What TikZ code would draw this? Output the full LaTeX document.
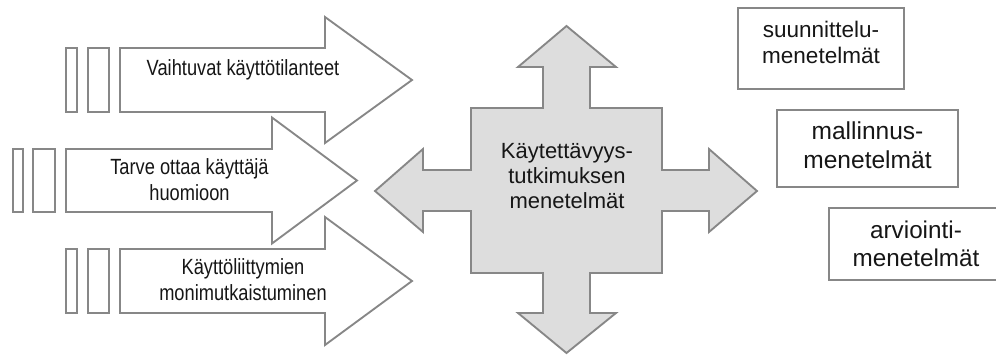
\documentclass[tikz,border=0pt]{standalone}
\usepackage{fontspec}
\setmainfont{Liberation Sans}
\newfontfamily\narrowsans{Liberation Sans}[FakeStretch=0.83]
\definecolor{edgegray}{RGB}{135,135,135}
\definecolor{crossfill}{RGB}{221,221,221}
\definecolor{inkblack}{RGB}{22,22,22}

\begin{document}
\begin{tikzpicture}[x=0.75pt,y=-0.75pt,
    outline/.style={draw=edgegray, line width=1.4pt, line join=miter},
    arrowtext/.style={text=inkblack, align=center, inner sep=0pt,
      font=\narrowsans\fontsize{16.5pt}{19.5pt}\selectfont},
    boxtext/.style={text=inkblack, align=center, inner sep=0pt}]
  \useasboundingbox (0,0) rectangle (996,358);

  % left arrows
  \draw[outline] (66,48) rectangle (77,112);
  \draw[outline] (88,48) rectangle (109,112);
  \draw[outline, fill=white] (120,48) -- (325,48) -- (325,17) -- (412,80)
    -- (325,143) -- (325,112) -- (120,112) -- cycle;

  \draw[outline] (13,149) rectangle (23,212);
  \draw[outline] (33,149) rectangle (55,212);
  \draw[outline, fill=white] (66,149) -- (272,149) -- (272,117.5) -- (357,180.5)
    -- (272,243.5) -- (272,212) -- (66,212) -- cycle;

  \draw[outline] (66,249) rectangle (77,313);
  \draw[outline] (88,249) rectangle (109,313);
  \draw[outline, fill=white] (120,249) -- (325,249) -- (325,217) -- (412,281)
    -- (325,345) -- (325,313) -- (120,313) -- cycle;

  \node[arrowtext, anchor=base] (vaihtuvat) at (243,75) {Vaihtuvat käyttötilanteet};
  \node[arrowtext] (tarve) at (189.5,180) {Tarve ottaa käyttäjä\\huomioon};
  \node[arrowtext] (liittymat) at (243,279.5) {Käyttöliittymien\\monimutkaistuminen};

  % centre cross
  \draw[outline, fill=crossfill] (566.5,26) -- (616,67) -- (590,67) -- (590,108)
    -- (662,108) -- (662,170) -- (709,170) -- (709,149) -- (757,191)
    -- (709,232) -- (709,211) -- (662,211) -- (662,273) -- (590,273)
    -- (590,313) -- (616,313) -- (566.5,353) -- (518,313) -- (543,313)
    -- (543,273) -- (471,273) -- (471,211) -- (423,211) -- (423,232)
    -- (375,191) -- (423,149) -- (423,170) -- (471,170) -- (471,108)
    -- (543,108) -- (543,67) -- (518,67) -- cycle;
  \node[boxtext, font=\fontsize{16.5pt}{18.75pt}\selectfont] (tutkimus) at (567,176)
    {Käytettävyys-\\tutkimuksen\\menetelmät};

  % method boxes
  \draw[outline] (738,8) rectangle (904,89);
  \draw[outline] (777,110) rectangle (958,187);
  \draw[outline] (829,208) rectangle (1010,280);
  \node[boxtext, font=\fontsize{16.9pt}{19.5pt}\selectfont] (suunnittelu) at (821,42)
    {suunnittelu-\\menetelmät};
  \node[boxtext, font=\fontsize{18.4pt}{21.75pt}\selectfont] (mallinnus) at (867.5,145.5)
    {mallinnus-\\menetelmät};
  \node[boxtext, font=\fontsize{18.2pt}{20.6pt}\selectfont] (arviointi) at (916,244)
    {arviointi-\\menetelmät};
\end{tikzpicture}
\end{document}
